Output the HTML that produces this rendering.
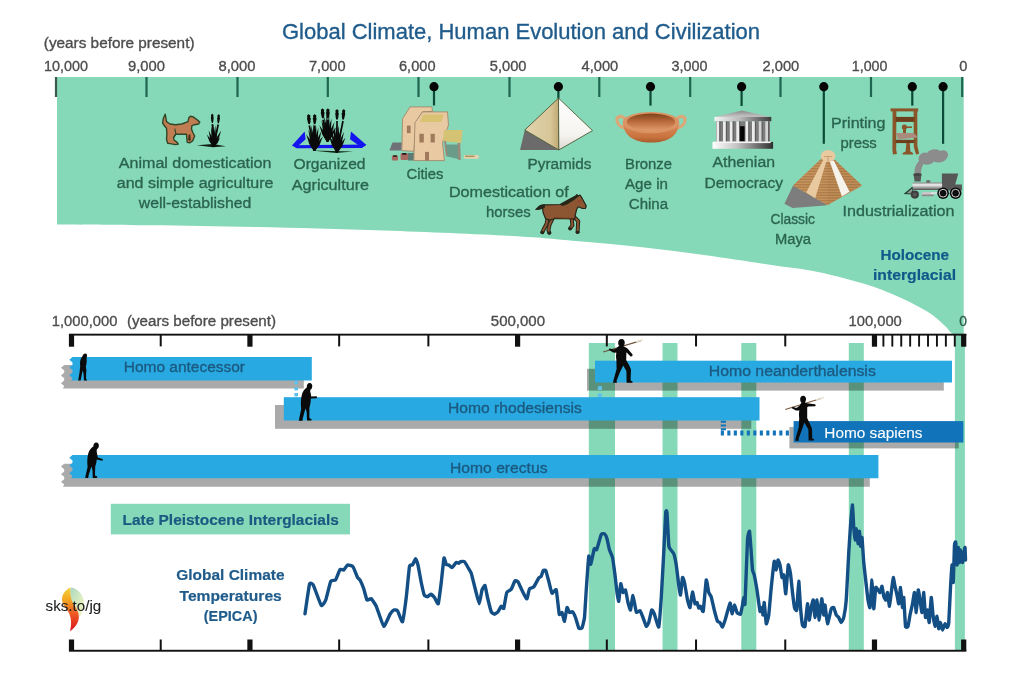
<!DOCTYPE html>
<html><head><meta charset="utf-8"><title>Global Climate, Human Evolution and Civilization</title>
<style>
html,body{margin:0;padding:0;background:#fff;}
body{width:1024px;height:674px;overflow:hidden;}
svg{display:block;font-family:"Liberation Sans",sans-serif;}
</style></head><body>
<svg width="1024" height="674" viewBox="0 0 1024 674">
<rect width="1024" height="674" fill="#fff"/>
<path d="M57,77 L963.7,77 L963.7,335.2 L954.8,335.2 L953.60,335.00 C953.00,334.45 951.43,333.20 950.00,331.70 C948.57,330.20 947.92,328.78 945.00,326.00 C942.08,323.22 936.67,318.10 932.50,315.00 C928.33,311.90 925.42,310.32 920.00,307.40 C914.58,304.48 908.67,301.23 900.00,297.50 C891.33,293.77 881.67,289.25 868.00,285.00 C854.33,280.75 834.67,275.42 818.00,272.00 C801.33,268.58 787.00,267.33 768.00,264.50 C749.00,261.67 725.33,257.92 704.00,255.00 C682.67,252.08 661.33,249.33 640.00,247.00 C618.67,244.67 597.33,242.83 576.00,241.00 C554.67,239.17 544.00,237.75 512.00,236.00 C480.00,234.25 426.67,232.00 384.00,230.50 C341.33,229.00 295.00,227.87 256.00,227.00 C217.00,226.13 183.17,225.72 150.00,225.30 C116.83,224.88 72.50,224.63 57.00,224.50 Z" fill="#86d9b8"/>
<text x="282.00" y="38.80" font-size="22" fill="#1f5b8b" font-weight="normal" stroke="#1f5b8b" stroke-width="0.35" textLength="478.00" lengthAdjust="spacingAndGlyphs" >Global Climate, Human Evolution and Civilization</text>
<text x="43.80" y="47.70" font-size="15.5" fill="#4d4d4d" font-weight="normal" stroke="#4d4d4d" stroke-width="0.35" textLength="150.70" lengthAdjust="spacingAndGlyphs" >(years before present)</text>
<text x="44.00" y="70.60" font-size="15.5" fill="#4d4d4d" font-weight="normal" stroke="#4d4d4d" stroke-width="0.35" textLength="44.00" lengthAdjust="spacingAndGlyphs" >10,000</text>
<text x="128.00" y="70.60" font-size="15.5" fill="#4d4d4d" font-weight="normal" stroke="#4d4d4d" stroke-width="0.35" textLength="37.00" lengthAdjust="spacingAndGlyphs" >9,000</text>
<text x="218.50" y="70.60" font-size="15.5" fill="#4d4d4d" font-weight="normal" stroke="#4d4d4d" stroke-width="0.35" textLength="37.00" lengthAdjust="spacingAndGlyphs" >8,000</text>
<text x="309.00" y="70.60" font-size="15.5" fill="#4d4d4d" font-weight="normal" stroke="#4d4d4d" stroke-width="0.35" textLength="36.50" lengthAdjust="spacingAndGlyphs" >7,000</text>
<text x="399.00" y="70.60" font-size="15.5" fill="#4d4d4d" font-weight="normal" stroke="#4d4d4d" stroke-width="0.35" textLength="36.50" lengthAdjust="spacingAndGlyphs" >6,000</text>
<text x="489.80" y="70.60" font-size="15.5" fill="#4d4d4d" font-weight="normal" stroke="#4d4d4d" stroke-width="0.35" textLength="36.70" lengthAdjust="spacingAndGlyphs" >5,000</text>
<text x="581.50" y="70.60" font-size="15.5" fill="#4d4d4d" font-weight="normal" stroke="#4d4d4d" stroke-width="0.35" textLength="36.70" lengthAdjust="spacingAndGlyphs" >4,000</text>
<text x="671.50" y="70.60" font-size="15.5" fill="#4d4d4d" font-weight="normal" stroke="#4d4d4d" stroke-width="0.35" textLength="36.00" lengthAdjust="spacingAndGlyphs" >3,000</text>
<text x="762.50" y="70.60" font-size="15.5" fill="#4d4d4d" font-weight="normal" stroke="#4d4d4d" stroke-width="0.35" textLength="36.70" lengthAdjust="spacingAndGlyphs" >2,000</text>
<text x="851.80" y="70.60" font-size="15.5" fill="#4d4d4d" font-weight="normal" stroke="#4d4d4d" stroke-width="0.35" textLength="35.70" lengthAdjust="spacingAndGlyphs" >1,000</text>
<text x="959.20" y="70.60" font-size="15.5" fill="#4d4d4d" font-weight="normal" stroke="#4d4d4d" stroke-width="0.35" textLength="8.10" lengthAdjust="spacingAndGlyphs" >0</text>
<rect x="54.90" y="77" width="2.2" height="20" fill="#3a5a50"/>
<rect x="145.40" y="77" width="2.2" height="20" fill="#1f6650"/>
<rect x="236.40" y="77" width="2.2" height="20" fill="#1f6650"/>
<rect x="326.70" y="77" width="2.2" height="20" fill="#1f6650"/>
<rect x="417.40" y="77" width="2.2" height="20" fill="#1f6650"/>
<rect x="508.40" y="77" width="2.2" height="20" fill="#1f6650"/>
<rect x="598.20" y="77" width="2.2" height="20" fill="#1f6650"/>
<rect x="689.10" y="77" width="2.2" height="20" fill="#1f6650"/>
<rect x="779.40" y="77" width="2.2" height="20" fill="#1f6650"/>
<rect x="869.90" y="77" width="2.2" height="20" fill="#1f6650"/>
<rect x="961.10" y="77" width="2.2" height="20" fill="#1f6650"/>
<rect x="432.90" y="87" width="2.2" height="18.50" fill="#0b4a36"/>
<circle cx="434.00" cy="86.7" r="4.6" fill="#050505"/>
<rect x="557.30" y="87" width="2.2" height="11.50" fill="#0b4a36"/>
<circle cx="558.40" cy="86.7" r="4.6" fill="#050505"/>
<rect x="649.40" y="87" width="2.2" height="18.60" fill="#0b4a36"/>
<circle cx="650.50" cy="86.7" r="4.6" fill="#050505"/>
<rect x="740.50" y="87" width="2.2" height="19.00" fill="#0b4a36"/>
<circle cx="741.60" cy="86.7" r="4.6" fill="#050505"/>
<rect x="822.70" y="87" width="2.2" height="56.80" fill="#0b4a36"/>
<circle cx="823.80" cy="86.7" r="4.6" fill="#050505"/>
<rect x="911.20" y="87" width="2.2" height="18.60" fill="#0b4a36"/>
<circle cx="912.30" cy="86.7" r="4.6" fill="#050505"/>
<rect x="942.00" y="87" width="2.2" height="56.80" fill="#0b4a36"/>
<circle cx="943.10" cy="86.7" r="4.6" fill="#050505"/>
<text x="118.80" y="167.50" font-size="15.5" fill="#2b6451" font-weight="normal" stroke="#2b6451" stroke-width="0.35" textLength="152.70" lengthAdjust="spacingAndGlyphs" >Animal domestication</text>
<text x="116.80" y="188.00" font-size="15.5" fill="#2b6451" font-weight="normal" stroke="#2b6451" stroke-width="0.35" textLength="156.70" lengthAdjust="spacingAndGlyphs" >and simple agriculture</text>
<text x="138.80" y="208.00" font-size="15.5" fill="#2b6451" font-weight="normal" stroke="#2b6451" stroke-width="0.35" textLength="112.50" lengthAdjust="spacingAndGlyphs" >well-established</text>
<text x="293.50" y="169.00" font-size="15.5" fill="#2b6451" font-weight="normal" stroke="#2b6451" stroke-width="0.35" textLength="72.00" lengthAdjust="spacingAndGlyphs" >Organized</text>
<text x="291.80" y="190.00" font-size="15.5" fill="#2b6451" font-weight="normal" stroke="#2b6451" stroke-width="0.35" textLength="77.20" lengthAdjust="spacingAndGlyphs" >Agriculture</text>
<text x="406.50" y="178.80" font-size="15.5" fill="#2b6451" font-weight="normal" stroke="#2b6451" stroke-width="0.35" textLength="37.00" lengthAdjust="spacingAndGlyphs" >Cities</text>
<text x="449.00" y="197.30" font-size="15.5" fill="#2b6451" font-weight="normal" stroke="#2b6451" stroke-width="0.35" textLength="119.80" lengthAdjust="spacingAndGlyphs" >Domestication of</text>
<text x="486.00" y="217.00" font-size="15.5" fill="#2b6451" font-weight="normal" stroke="#2b6451" stroke-width="0.35" textLength="44.60" lengthAdjust="spacingAndGlyphs" >horses</text>
<text x="527.50" y="168.80" font-size="15.5" fill="#2b6451" font-weight="normal" stroke="#2b6451" stroke-width="0.35" textLength="64.00" lengthAdjust="spacingAndGlyphs" >Pyramids</text>
<text x="625.00" y="168.80" font-size="15.5" fill="#2b6451" font-weight="normal" stroke="#2b6451" stroke-width="0.35" textLength="47.00" lengthAdjust="spacingAndGlyphs" >Bronze</text>
<text x="625.00" y="189.00" font-size="15.5" fill="#2b6451" font-weight="normal" stroke="#2b6451" stroke-width="0.35" textLength="43.00" lengthAdjust="spacingAndGlyphs" >Age in</text>
<text x="628.80" y="209.00" font-size="15.5" fill="#2b6451" font-weight="normal" stroke="#2b6451" stroke-width="0.35" textLength="39.20" lengthAdjust="spacingAndGlyphs" >China</text>
<text x="712.50" y="167.00" font-size="15.5" fill="#2b6451" font-weight="normal" stroke="#2b6451" stroke-width="0.35" textLength="62.50" lengthAdjust="spacingAndGlyphs" >Athenian</text>
<text x="704.50" y="187.50" font-size="15.5" fill="#2b6451" font-weight="normal" stroke="#2b6451" stroke-width="0.35" textLength="78.50" lengthAdjust="spacingAndGlyphs" >Democracy</text>
<text x="770.50" y="224.00" font-size="15.5" fill="#2b6451" font-weight="normal" stroke="#2b6451" stroke-width="0.35" textLength="44.50" lengthAdjust="spacingAndGlyphs" >Classic</text>
<text x="775.00" y="243.80" font-size="15.5" fill="#2b6451" font-weight="normal" stroke="#2b6451" stroke-width="0.35" textLength="36.00" lengthAdjust="spacingAndGlyphs" >Maya</text>
<text x="831.00" y="128.00" font-size="15.5" fill="#2b6451" font-weight="normal" stroke="#2b6451" stroke-width="0.35" textLength="54.50" lengthAdjust="spacingAndGlyphs" >Printing</text>
<text x="840.50" y="148.00" font-size="15.5" fill="#2b6451" font-weight="normal" stroke="#2b6451" stroke-width="0.35" textLength="36.30" lengthAdjust="spacingAndGlyphs" >press</text>
<text x="842.50" y="216.00" font-size="15.5" fill="#2b6451" font-weight="normal" stroke="#2b6451" stroke-width="0.35" textLength="112.00" lengthAdjust="spacingAndGlyphs" >Industrialization</text>
<text x="880.50" y="260.00" font-size="15.5" fill="#0f5a8a" font-weight="bold" stroke="#0f5a8a" stroke-width="0.2" textLength="68.50" lengthAdjust="spacingAndGlyphs" >Holocene</text>
<text x="873.00" y="280.00" font-size="15.5" fill="#0f5a8a" font-weight="bold" stroke="#0f5a8a" stroke-width="0.2" textLength="83.00" lengthAdjust="spacingAndGlyphs" >interglacial</text>
<defs>
<linearGradient id="pyrL" x1="0" y1="0" x2="1" y2="0"><stop offset="0" stop-color="#e2d3ad"/><stop offset="0.75" stop-color="#d8c699"/><stop offset="1" stop-color="#bfa873"/></linearGradient>
<linearGradient id="pyrR" x1="0" y1="0" x2="0" y2="1"><stop offset="0" stop-color="#ffffff"/><stop offset="0.7" stop-color="#f6f4f0"/><stop offset="1" stop-color="#dcd8d0"/></linearGradient>
<linearGradient id="bowlIn" x1="0" y1="0" x2="0" y2="1"><stop offset="0" stop-color="#7e4319"/><stop offset="0.45" stop-color="#b8683a"/><stop offset="1" stop-color="#e09a6c"/></linearGradient>
<linearGradient id="bowlBody" x1="0" y1="0" x2="0" y2="1"><stop offset="0" stop-color="#d98a58"/><stop offset="0.7" stop-color="#c9743f"/><stop offset="1" stop-color="#a85a2c"/></linearGradient>
<linearGradient id="tmpH" x1="0" y1="0" x2="1" y2="0"><stop offset="0" stop-color="#f4f4f4"/><stop offset="0.45" stop-color="#b9b9b9"/><stop offset="1" stop-color="#3c3c3c"/></linearGradient>
<linearGradient id="tmpP" x1="0" y1="0" x2="0" y2="1"><stop offset="0" stop-color="#8a8a8a"/><stop offset="1" stop-color="#c8c8c8"/></linearGradient>
<linearGradient id="tmpB" x1="0" y1="0" x2="1" y2="0"><stop offset="0" stop-color="#ffffff"/><stop offset="0.4" stop-color="#c4c4c4"/><stop offset="1" stop-color="#2e2e2e"/></linearGradient>
<linearGradient id="boiler" x1="0" y1="0" x2="0" y2="1"><stop offset="0" stop-color="#8a8a8a"/><stop offset="0.3" stop-color="#f2f2f2"/><stop offset="0.7" stop-color="#9a9a9a"/><stop offset="1" stop-color="#4a4a4a"/></linearGradient>
<linearGradient id="flame" x1="0" y1="0" x2="0" y2="1"><stop offset="0" stop-color="#f3d43a"/><stop offset="0.3" stop-color="#f3a324"/><stop offset="0.6" stop-color="#ee5a24"/><stop offset="1" stop-color="#d9141c"/></linearGradient>
<linearGradient id="leaf" x1="0" y1="0" x2="1" y2="1"><stop offset="0" stop-color="#a9d8c0"/><stop offset="0.6" stop-color="#dcecc0"/><stop offset="1" stop-color="#f6f0c0"/></linearGradient>
<pattern id="mayaL" width="4" height="1.6" patternUnits="userSpaceOnUse"><rect width="4" height="1.6" fill="#c9985f"/><rect y="0" width="4" height="0.65" fill="#a37243"/></pattern>
</defs>
<path d="M165.2,114.2 L163.4,118.2 L162.6,123.2 L164.6,126 L166.5,128.3 L166.9,133.8 L166.5,139.2 L167.7,143.2 L170,143.6 L175.5,144.6 L178.3,144.1 L177.1,142.4 L174,140 L173.6,137.7 L175.9,133.9 L177.1,134.2 L186.5,134.2 L186.9,139.2 L187.3,142.4 L189.6,142.8 L192.7,140.8 L194.7,136.1 L192.7,132.2 L191.5,129.1 L191.9,125.6 L194.3,124.8 L198.6,124 L199.8,122.1 L196.6,119.3 L192.7,116.6 L190.4,116.2 L188.8,117.8 L188,121.7 L181.8,124 L175.5,124.8 L170,124 L166.5,121.7 L165.8,117.4 Z" fill="#c07d51" stroke="#2f4629" stroke-width="1.4" stroke-linejoin="round"/>
<path d="M174.8,128.7 L175.9,133.8 L173.8,137.4" fill="none" stroke="#2f4629" stroke-width="1.1"/>
<path d="M188.6,134.4 L190.4,134.6 L190.8,139.4 L189.4,141.6 L188.2,139.4 Z" fill="#4a3018"/>
<path d="M196.8,145.3 L213,144 L225.8,146.3 L213,147.3 Z" fill="#0d1a10"/>
<polygon points="213.20,146.56 209.54,141.65 206.80,134.60 211.76,140.31 214.40,145.84" fill="#0b0b0b"/>
<polygon points="213.13,146.42 210.22,139.40 208.60,130.20 212.70,138.60 214.47,145.98" fill="#0b0b0b"/>
<polygon points="213.11,146.29 211.34,137.60 211.20,126.70 213.92,137.25 214.49,146.11" fill="#0b0b0b"/>
<polygon points="213.10,146.22 212.23,136.34 213.20,124.20 214.83,136.26 214.50,146.18" fill="#0b0b0b"/>
<polygon points="213.10,146.15 213.22,136.65 215.40,125.20 215.82,136.85 214.50,146.25" fill="#0b0b0b"/>
<polygon points="213.11,146.06 214.15,137.85 217.40,128.20 216.69,138.35 214.49,146.34" fill="#0b0b0b"/>
<polygon points="213.17,145.90 215.96,138.62 221.20,130.60 218.30,139.74 214.43,146.50" fill="#0b0b0b"/>
<polygon points="213.23,145.79 215.54,141.57 220.00,137.60 217.64,143.09 214.37,146.61" fill="#0b0b0b"/>
<polygon points="213.16,146.47 210.89,142.66 210.00,137.20 213.29,141.64 214.44,145.93" fill="#0b0b0b"/>
<path d="M213.80,145.20 L212.39,124.10" stroke="#0b0b0b" stroke-width="1.7" fill="none"/>
<polygon points="212.20,113.60 211.55,114.61 211.00,114.78 211.17,117.34 210.78,117.50 211.26,120.05 211.18,120.21 211.80,122.75 212.39,122.90 212.39,122.90 212.93,122.73 213.50,120.16 213.36,120.01 213.78,117.44 213.34,117.29 213.46,114.73 212.85,114.59" fill="#0b0b0b"/>
<path d="M213.80,145.20 L218.20,124.50" stroke="#0b0b0b" stroke-width="1.7" fill="none"/>
<polygon points="218.80,114.00 218.15,114.96 217.49,115.08 217.55,117.65 217.05,117.78 217.41,120.36 217.22,120.51 217.72,123.11 218.20,123.30 218.20,123.30 218.85,123.18 219.53,120.66 219.51,120.49 220.04,117.97 219.71,117.78 219.94,115.23 219.45,115.04" fill="#0b0b0b"/>
<path d="M304.6,131.6 L292,145.4 L296.5,147.6 L305.6,139.2 Z" fill="#1414ee"/>
<path d="M351,131.6 L366.4,145 L361.6,147.6 L350,139.2 Z" fill="#1414ee"/>
<path d="M292,145.2 L366.4,144.6 L362,148 L296.5,148.2 Z" fill="#1414ee"/>
<path d="M312,150.4 L353,151.4 L336,153 Z" fill="#14281a"/>
<polygon points="326.87,141.81 322.38,134.84 319.30,125.10 325.24,133.40 328.13,141.19" fill="#0b0b0b"/>
<polygon points="326.83,141.69 323.26,132.49 321.50,120.50 326.34,131.61 328.17,141.31" fill="#0b0b0b"/>
<polygon points="326.81,141.59 324.47,130.45 324.30,116.50 327.65,130.05 328.19,141.41" fill="#0b0b0b"/>
<polygon points="326.80,141.52 325.54,129.40 326.70,114.50 328.74,129.30 328.20,141.48" fill="#0b0b0b"/>
<polygon points="326.80,141.46 326.62,129.70 329.10,115.50 329.82,129.90 328.20,141.54" fill="#0b0b0b"/>
<polygon points="326.81,141.38 327.72,130.88 331.50,118.50 330.88,131.42 328.19,141.62" fill="#0b0b0b"/>
<polygon points="326.84,141.26 329.14,132.14 334.50,121.90 332.16,133.22 328.16,141.74" fill="#0b0b0b"/>
<polygon points="326.90,141.14 329.91,134.38 335.90,127.50 332.65,136.02 328.10,141.86" fill="#0b0b0b"/>
<polygon points="326.84,141.74 324.02,136.65 323.10,129.50 327.02,135.55 328.16,141.26" fill="#0b0b0b"/>
<polygon points="326.85,141.23 328.09,135.93 332.10,130.50 331.05,137.17 328.15,141.77" fill="#0b0b0b"/>
<path d="M327.50,140.50 L323.01,119.70" stroke="#0b0b0b" stroke-width="1.7" fill="none"/>
<polygon points="322.40,108.20 321.54,109.25 320.85,109.60 321.14,112.28 320.67,112.62 321.35,115.28 321.30,115.59 322.17,118.24 323.01,118.50 323.01,118.50 323.67,118.16 324.38,115.41 324.15,115.12 324.66,112.38 324.01,112.12 324.12,109.40 323.26,109.15" fill="#0b0b0b"/>
<path d="M327.50,140.50 L327.85,119.70" stroke="#0b0b0b" stroke-width="1.7" fill="none"/>
<polygon points="327.90,108.20 327.04,109.20 326.25,109.49 326.45,112.19 325.88,112.49 326.47,115.19 326.32,115.49 327.11,118.20 327.85,118.50 327.85,118.50 328.61,118.20 329.41,115.51 329.28,115.21 329.88,112.51 329.33,112.21 329.53,109.51 328.76,109.20" fill="#0b0b0b"/>
<polygon points="313.77,150.91 309.28,143.94 306.20,134.20 312.14,142.50 315.03,150.29" fill="#0b0b0b"/>
<polygon points="313.73,150.79 310.16,141.59 308.40,129.60 313.24,140.71 315.07,150.41" fill="#0b0b0b"/>
<polygon points="313.71,150.69 311.37,139.55 311.20,125.60 314.55,139.15 315.09,150.51" fill="#0b0b0b"/>
<polygon points="313.70,150.62 312.44,138.50 313.60,123.60 315.64,138.40 315.10,150.58" fill="#0b0b0b"/>
<polygon points="313.70,150.56 313.52,138.80 316.00,124.60 316.72,139.00 315.10,150.64" fill="#0b0b0b"/>
<polygon points="313.71,150.48 314.62,139.98 318.40,127.60 317.78,140.52 315.09,150.72" fill="#0b0b0b"/>
<polygon points="313.74,150.36 316.04,141.24 321.40,131.00 319.06,142.32 315.06,150.84" fill="#0b0b0b"/>
<polygon points="313.80,150.24 316.81,143.48 322.80,136.60 319.55,145.12 315.00,150.96" fill="#0b0b0b"/>
<polygon points="313.74,150.84 310.92,145.75 310.00,138.60 313.92,144.65 315.06,150.36" fill="#0b0b0b"/>
<polygon points="313.75,150.33 314.99,145.03 319.00,139.60 317.95,146.27 315.05,150.87" fill="#0b0b0b"/>
<path d="M314.40,149.60 L309.30,125.50" stroke="#0b0b0b" stroke-width="1.7" fill="none"/>
<polygon points="308.60,114.00 307.74,115.06 307.06,115.41 307.36,118.10 306.90,118.43 307.60,121.09 307.56,121.40 308.45,124.05 309.30,124.30 309.30,124.30 309.95,123.95 310.64,121.20 310.40,120.91 310.89,118.17 310.24,117.90 310.34,115.19 309.46,114.94" fill="#0b0b0b"/>
<path d="M314.40,149.60 L314.66,125.50" stroke="#0b0b0b" stroke-width="1.7" fill="none"/>
<polygon points="314.70,114.00 313.84,115.00 313.05,115.29 313.25,118.00 312.69,118.29 313.27,121.00 313.13,121.29 313.92,124.00 314.66,124.30 314.66,124.30 315.42,124.00 316.22,121.31 316.08,121.00 316.68,118.31 316.13,118.00 316.33,115.31 315.56,115.00" fill="#0b0b0b"/>
<polygon points="336.37,152.50 331.87,145.22 328.80,135.14 334.75,143.83 337.63,151.90" fill="#0b0b0b"/>
<polygon points="336.33,152.39 332.76,142.80 331.00,130.36 335.84,141.95 337.67,152.01" fill="#0b0b0b"/>
<polygon points="336.31,152.29 333.97,140.70 333.80,126.20 337.15,140.30 337.69,152.11" fill="#0b0b0b"/>
<polygon points="336.30,152.22 335.04,139.61 336.20,124.12 338.24,139.52 337.70,152.18" fill="#0b0b0b"/>
<polygon points="336.30,152.16 336.12,139.94 338.60,125.16 339.32,140.13 337.70,152.24" fill="#0b0b0b"/>
<polygon points="336.31,152.08 337.22,141.17 341.00,128.28 340.38,141.70 337.69,152.32" fill="#0b0b0b"/>
<polygon points="336.34,151.97 338.64,142.51 344.00,131.82 341.66,143.55 337.66,152.43" fill="#0b0b0b"/>
<polygon points="336.39,151.85 339.39,144.85 345.40,137.64 342.17,146.45 337.61,152.55" fill="#0b0b0b"/>
<polygon points="336.34,152.43 333.51,147.12 332.60,139.72 336.53,146.05 337.66,151.97" fill="#0b0b0b"/>
<polygon points="336.35,151.94 337.59,146.46 341.60,140.76 340.55,147.65 337.65,152.46" fill="#0b0b0b"/>
<path d="M337.00,151.20 L337.00,121.00" stroke="#0b0b0b" stroke-width="1.7" fill="none"/>
<polygon points="337.00,109.00 336.18,110.00 335.44,110.37 335.63,113.14 335.10,113.51 335.67,116.29 335.53,116.66 336.29,119.43 337.00,119.80 337.00,119.80 337.71,119.43 338.47,116.66 338.33,116.29 338.90,113.51 338.37,113.14 338.56,110.37 337.82,110.00" fill="#0b0b0b"/>
<path d="M337.00,151.20 L342.98,121.00" stroke="#0b0b0b" stroke-width="1.7" fill="none"/>
<polygon points="343.80,109.00 342.98,109.94 342.13,110.26 342.20,113.04 341.56,113.37 342.00,116.19 341.75,116.55 342.39,119.38 342.98,119.80 342.98,119.80 343.81,119.48 344.68,116.77 344.66,116.38 345.34,113.65 344.93,113.24 345.24,110.49 344.62,110.06" fill="#0b0b0b"/>
<polygon points="392.5,142.5 401.9,142.5 401.3,150.6 389.4,150.6" fill="#6f7078"/>
<polygon points="408,153 414,153 413.8,160.6 407.8,160.6" fill="#5e7a74"/>
<polygon points="410,106.9 431.9,106.9 432.5,111.3 422.5,111.9 416.3,121.3 413.8,151.3 401.9,150.6 402.5,118.8" fill="#e9c9a2" stroke="#a3886c" stroke-width="0.9"/>
<polygon points="422.5,111.9 447.5,111.9 448.5,125 442.5,142.5 444.4,160.6 413.8,160.6 415,122.5" fill="#e9c9a2" stroke="#a3886c" stroke-width="0.9"/>
<polygon points="423.2,114.4 443.8,114.4 441.3,121.9 420,121.9" fill="#d9c272"/>
<rect x="406.9" y="125.6" width="3.7" height="7.5" fill="#a07a5c"/>
<rect x="419.4" y="133.8" width="4.4" height="8.7" fill="#a07a5c"/>
<rect x="430.6" y="133.8" width="4.2" height="8.7" fill="#a07a5c"/>
<rect x="425" y="151.9" width="4" height="8.7" fill="#a07a5c"/>
<polygon points="445,144.4 458.8,144.4 460,159.4 446.3,156.3" fill="#6b9c8a"/>
<polygon points="443.8,130 462.5,130 461.3,143.1 443.1,141.3" fill="#d5c374"/>
<polygon points="457.5,143 460.2,143 460.8,160 458.3,160" fill="#988a7c"/>
<polygon points="444,141 446,141 447.6,156 446,156" fill="#988a7c"/>
<rect x="391.9" y="155.6" width="6.2" height="5" rx="1" fill="#a96a62"/><rect x="393.2" y="155.3" width="3.6" height="1.6" fill="#2a1a1a"/>
<rect x="400.6" y="153.3" width="7.5" height="6.7" rx="1" fill="#a96a62"/><rect x="402.2" y="153" width="4.2" height="1.8" fill="#2a1a1a"/>
<rect x="463.8" y="155" width="15" height="3.8" rx="1.5" fill="#e2d3ae"/><rect x="465" y="155.6" width="9.5" height="1.3" fill="#a88a56"/>
<polygon points="524.8,130 520,150 558.8,150" fill="#6b6b6b"/>
<polygon points="558.5,98.1 524.8,130 558.8,150" fill="url(#pyrL)" stroke="#4d5a33" stroke-width="0.9" stroke-linejoin="round"/>
<polygon points="558.5,98.1 592.5,130.6 558.8,150" fill="url(#pyrR)" stroke="#4d5a33" stroke-width="0.9" stroke-linejoin="round"/>
<path d="M626,120 C621,114 616,116.5 617.2,121.5 C618.3,126 623,128.5 627,127" fill="none" stroke="#dba678" stroke-width="3.2" stroke-linecap="round"/>
<path d="M676,120 C681,114 686,116.5 684.8,121.5 C683.7,126 679,128.5 675,127" fill="none" stroke="#dba678" stroke-width="3.2" stroke-linecap="round"/>
<path d="M623,123.5 C624,136 634,142.6 651,142.6 C668,142.6 678,136 679,123.5 Z" fill="url(#bowlBody)"/>
<ellipse cx="651" cy="122.6" rx="28.4" ry="10.6" fill="#dc9364"/>
<ellipse cx="651" cy="122" rx="24.2" ry="8.5" fill="url(#bowlIn)"/>
<polygon points="715,117 741.9,110.5 770.2,117" fill="url(#tmpP)"/>
<rect x="714.4" y="116.9" width="56.9" height="4.4" fill="url(#tmpH)"/>
<rect x="716" y="121.3" width="54" height="20.6" fill="#7c7c7c"/>
<rect x="740" y="126.2" width="4.6" height="15.3" fill="#050505"/>
<rect x="716.5" y="121.3" width="2.9" height="20.6" fill="#ececec"/>
<rect x="719.4" y="121.3" width="0.9" height="20.6" fill="#555"/>
<rect x="723" y="121.3" width="2.9" height="20.6" fill="#ececec"/>
<rect x="725.9" y="121.3" width="0.9" height="20.6" fill="#555"/>
<rect x="729.8" y="121.3" width="2.9" height="20.6" fill="#ececec"/>
<rect x="732.6999999999999" y="121.3" width="0.9" height="20.6" fill="#555"/>
<rect x="736.3" y="121.3" width="2.9" height="20.6" fill="#ececec"/>
<rect x="739.1999999999999" y="121.3" width="0.9" height="20.6" fill="#555"/>
<rect x="745.5" y="121.3" width="2.9" height="20.6" fill="#ececec"/>
<rect x="748.4" y="121.3" width="0.9" height="20.6" fill="#555"/>
<rect x="752" y="121.3" width="2.9" height="20.6" fill="#ececec"/>
<rect x="754.9" y="121.3" width="0.9" height="20.6" fill="#555"/>
<rect x="758.8" y="121.3" width="2.9" height="20.6" fill="#d4d4d4"/>
<rect x="761.6999999999999" y="121.3" width="0.9" height="20.6" fill="#555"/>
<rect x="765.3" y="121.3" width="2.9" height="20.6" fill="#d4d4d4"/>
<rect x="768.1999999999999" y="121.3" width="0.9" height="20.6" fill="#555"/>
<rect x="712.5" y="141.9" width="60.6" height="6.9" fill="url(#tmpB)"/>
<rect x="714.4" y="141.5" width="56.3" height="1.6" fill="#f4f4f4"/>
<path d="M548,216 L546.5,224 L543.6,229.5 L542.4,232.2" fill="none" stroke="#26261a" stroke-width="4" stroke-linejoin="round" stroke-linecap="round"/>
<path d="M553.5,216.5 L549.6,224.5 L548.4,230 L549.3,232.8" fill="none" stroke="#26261a" stroke-width="4" stroke-linejoin="round" stroke-linecap="round"/>
<path d="M573.6,216.5 L578.2,221.2 L577.6,232" fill="none" stroke="#26261a" stroke-width="4" stroke-linejoin="round" stroke-linecap="round"/>
<path d="M571.6,217 L572.4,225.4 L570.2,228.4" fill="none" stroke="#26261a" stroke-width="4" stroke-linejoin="round" stroke-linecap="round"/>
<path d="M548,216 L546.5,224 L543.6,229.5 L542.4,232.2" fill="none" stroke="#8b5631" stroke-width="2" stroke-linejoin="round" stroke-linecap="butt"/>
<path d="M553.5,216.5 L549.6,224.5 L548.4,230 L549.3,232.8" fill="none" stroke="#8b5631" stroke-width="2" stroke-linejoin="round" stroke-linecap="butt"/>
<path d="M573.6,216.5 L578.2,221.2 L577.6,232" fill="none" stroke="#8b5631" stroke-width="2" stroke-linejoin="round" stroke-linecap="butt"/>
<path d="M571.6,217 L572.4,225.4 L570.2,228.4" fill="none" stroke="#8b5631" stroke-width="2" stroke-linejoin="round" stroke-linecap="butt"/>
<ellipse cx="542.2" cy="232.4" rx="1.9" ry="1.4" fill="#26261a"/>
<ellipse cx="549.5" cy="233" rx="1.9" ry="1.4" fill="#26261a"/>
<ellipse cx="577.6" cy="232.2" rx="1.9" ry="1.4" fill="#26261a"/>
<ellipse cx="570" cy="228.6" rx="1.9" ry="1.4" fill="#26261a"/>
<path d="M543.8,204.8 L560,204.5 L570,199 L575.6,196 L576.9,194.7 L578.1,196 L580,195 L581.3,196.9 L586.3,206 L585.3,208.5 L582.5,208.5 L578.1,206.8 L576.5,209.8 L575.3,215 L574.8,218.8 L555,218.5 L550,220 L545.6,218.8 L543.1,212.5 L542.5,208.1 Z" fill="#8b5631" stroke="#26261a" stroke-width="1.2" stroke-linejoin="round"/>
<path d="M544.4,205 C541.5,204.2 538.5,206 535.6,209.4 C539,209.8 542,208.6 544.4,207.4 Z" fill="#26261a" stroke="#26261a" stroke-width="1"/>
<path d="M560,204.6 L570,199 L575.6,196 L576.9,194.6 L578.2,196 L580.2,195 L574.8,199.6 L567,204.6 L562,206 Z" fill="#26261a"/>
<circle cx="579.4" cy="201.4" r="0.9" fill="#a83030"/>
<path d="M554,218 L573,218.6" stroke="#5a3318" stroke-width="1.2"/>
<polygon points="793.1,185.6 784.4,203.8 792.5,208.1 825,205.6 827.5,205" fill="#7d7d7d"/>
<polygon points="821.3,158.8 793.1,185.6 827.5,205 861.9,185.6 835,160" fill="#bd8b55"/>
<polygon points="821.3,158.8 793.1,185.6 827.5,205 828,160" fill="url(#mayaL)"/>
<polygon points="835,160 861.9,185.6 827.5,205 827.5,160" fill="url(#mayaL)"/>
<polygon points="835,160 861.9,185.6 827.5,205 827.5,160" fill="#7a4a20" opacity="0.08"/>
<polygon points="823.6,159.2 826.6,160.6 815.2,198.2 806.2,192.6" fill="#e9c9a0"/>
<polygon points="829.4,160.6 833.8,160.6 849.6,191.8 841.9,196.4" fill="#f6f2ec"/>
<ellipse cx="828.1" cy="156" rx="7.3" ry="6" fill="#e9c9a0"/>
<path d="M824,156.5 L832.2,156.5 M828.1,156.5 L828.1,161.5" stroke="#c9a070" stroke-width="1.2" fill="none"/>
<rect x="890.6" y="108.4" width="27.6" height="3" fill="#8a5528"/>
<path d="M892.6,111 L896.4,111 L896.2,150 L897,154 L893,154.6 L892.4,150 Z" fill="#8a5528"/>
<path d="M913.6,111 L917.3,111 L917.4,146 L919.2,153.8 L916,154.6 L913.8,147 Z" fill="#8a5528"/>
<rect x="895.6" y="116.9" width="18.8" height="5" fill="#6e3f1c"/>
<circle cx="904.4" cy="127" r="2.6" fill="#8a5528"/><rect x="903" y="128" width="3" height="5.5" fill="#8a5528"/><rect x="905" y="126.4" width="7" height="1.6" fill="#8a5528"/>
<polygon points="895.6,133.1 913.8,133.1 918.3,137.5 898.1,139.4" fill="#a98c7c"/>
<rect x="895.6" y="139.8" width="18.8" height="3.3" fill="#6e3f1c"/>
<path d="M906.4,143 L909.8,143 L910.4,151.5 L913,153 L913,154.4 L902.6,154.4 L902.6,153 L905.6,151.5 Z" fill="#8a5528"/>
<path d="M915.5,176 C913,170 916,164 919,161 C917,155 923,151 927,153 C930,148 938,148.5 940,151 C945,148.5 949.5,152 947.5,157 C945,162.5 938,163.5 934,161.5 C931,165 926,165.5 923.5,164 C921,168 921,172 920.5,176 Z" fill="#8c8c8c"/>
<path d="M913.6,174.8 L921.4,174.8 L920.6,181.4 L914.6,181.4 Z" fill="#565656"/>
<ellipse cx="917.5" cy="174.6" rx="4.2" ry="1.5" fill="#444"/>
<ellipse cx="928.2" cy="181.6" rx="2.2" ry="1.6" fill="#6a6a6a"/>
<polygon points="941.9,173.5 958.3,173.5 955.2,184.4 961.9,184.4 961.9,190.5 941.9,190.5" fill="#575757"/>
<rect x="912.5" y="182.6" width="29.6" height="7.4" rx="1" fill="url(#boiler)"/>
<polygon points="903.6,194 912.5,186.6 913.2,194.6" fill="#1e3a2e"/>
<polygon points="906.5,193.3 912,188.4 912.3,193.6" fill="#8a9a92"/>
<rect x="921.9" y="192" width="12" height="4.2" rx="1.6" fill="#c9c9c9"/><rect x="921.9" y="194.6" width="12" height="1.6" rx="0.8" fill="#8a8a8a"/>
<rect x="931" y="192.4" width="14" height="1.5" fill="#e6e6e6"/>
<circle cx="914.8" cy="194.6" r="4.1" fill="#3c3c3c"/><circle cx="914.8" cy="194.6" r="2.2" fill="#555"/>
<circle cx="943.1" cy="193.2" r="5.8" fill="#0a0a0a"/><circle cx="943.1" cy="193.2" r="3.9" fill="none" stroke="#e8e8e8" stroke-width="0.9"/><circle cx="943.1" cy="193.2" r="2" fill="#111"/>
<circle cx="955.6" cy="193.2" r="5.8" fill="#0a0a0a"/><circle cx="955.6" cy="193.2" r="3.9" fill="none" stroke="#e8e8e8" stroke-width="0.9"/><circle cx="955.6" cy="193.2" r="2" fill="#111"/>
<text x="51.80" y="325.80" font-size="15.5" fill="#4d4d4d" font-weight="normal" stroke="#4d4d4d" stroke-width="0.35" textLength="65.70" lengthAdjust="spacingAndGlyphs" >1,000,000</text>
<text x="127.00" y="325.80" font-size="15.5" fill="#4d4d4d" font-weight="normal" stroke="#4d4d4d" stroke-width="0.35" textLength="149.00" lengthAdjust="spacingAndGlyphs" >(years before present)</text>
<text x="490.80" y="325.80" font-size="15.5" fill="#4d4d4d" font-weight="normal" stroke="#4d4d4d" stroke-width="0.35" textLength="54.20" lengthAdjust="spacingAndGlyphs" >500,000</text>
<text x="848.50" y="325.80" font-size="15.5" fill="#4d4d4d" font-weight="normal" stroke="#4d4d4d" stroke-width="0.35" textLength="53.30" lengthAdjust="spacingAndGlyphs" >100,000</text>
<text x="959.20" y="325.80" font-size="15.5" fill="#2f5e4e" font-weight="normal" stroke="#2f5e4e" stroke-width="0.35" textLength="7.70" lengthAdjust="spacingAndGlyphs" >0</text>
<polygon points="303.80,365.00 64.20,365.00 64.20,365.00 61.00,367.73 64.20,370.46 64.20,372.80 61.00,375.53 64.20,378.26 64.20,380.60 61.00,383.33 64.20,386.06 62.92,388.40 303.80,388.40" fill="#a9aaa9"/>
<rect x="275" y="405" width="476.3" height="23.8" fill="#a9aaa9"/>
<rect x="587" y="368.8" width="356.8" height="21.8" fill="#a9aaa9"/>
<rect x="789.4" y="427" width="169.3" height="21.4" fill="#a9aaa9"/>
<polygon points="869.80,463.80 64.20,463.80 64.20,463.80 61.00,466.48 64.20,469.17 64.20,471.47 61.00,474.15 64.20,476.83 64.20,479.13 61.00,481.82 64.20,484.50 62.92,486.80 869.80,486.80" fill="#a9aaa9"/>
<rect x="588.8" y="343" width="26.20" height="307.5" fill="#86d9b8" style="mix-blend-mode:multiply"/>
<rect x="662.5" y="343" width="15.00" height="307.5" fill="#86d9b8" style="mix-blend-mode:multiply"/>
<rect x="741.3" y="343" width="15.00" height="307.5" fill="#86d9b8" style="mix-blend-mode:multiply"/>
<rect x="848.8" y="343" width="15.00" height="307.5" fill="#86d9b8" style="mix-blend-mode:multiply"/>
<rect x="954.9" y="335.2" width="10" height="315.3" fill="#86d9b8" style="mix-blend-mode:multiply"/>
<rect x="110.8" y="503.8" width="239.2" height="30.6" fill="#86d9b8"/>
<text x="122.50" y="524.90" font-size="15.5" fill="#1a5a82" font-weight="bold" stroke="#1a5a82" stroke-width="0.2" textLength="216.30" lengthAdjust="spacingAndGlyphs" >Late Pleistocene Interglacials</text>
<rect x="294.4" y="381" width="3.6" height="3.4" fill="#5fc0ec"/><rect x="294.4" y="387" width="3.6" height="3.4" fill="#5fc0ec"/><rect x="294.4" y="393" width="3.6" height="3.4" fill="#5fc0ec"/>
<rect x="597.8" y="386.2" width="4.2" height="3.8" fill="#5fc0ec"/><rect x="597.8" y="393.6" width="4.2" height="3.6" fill="#5fc0ec"/>
<polygon points="311.80,357.00 72.50,357.00 72.50,357.00 69.30,359.73 72.50,362.46 72.50,364.80 69.30,367.53 72.50,370.26 72.50,372.60 69.30,375.33 72.50,378.06 71.22,380.40 311.80,380.40" fill="#29a9e1"/>
<rect x="283.8" y="397.2" width="475.7" height="23.3" fill="#29a9e1"/>
<rect x="595" y="360.7" width="357" height="21.8" fill="#29a9e1"/>
<polygon points="878.40,455.00 72.50,455.00 72.50,455.00 69.30,457.72 72.50,460.44 72.50,462.77 69.30,465.49 72.50,468.20 72.50,470.53 69.30,473.25 72.50,475.97 71.22,478.30 878.40,478.30" fill="#29a9e1"/>
<path d="M720.8,433.1 L790,433.1" stroke="#1173ba" stroke-width="5" stroke-dasharray="3.1 3.4" fill="none"/>
<path d="M723.4,420.8 L723.4,430.6" stroke="#1173ba" stroke-width="5.2" stroke-dasharray="2 1.7" fill="none"/>
<rect x="793.6" y="421.1" width="169.8" height="21.4" fill="#1173ba"/>
<text x="123.80" y="371.80" font-size="15.5" fill="#1b5a80" font-weight="normal" stroke="#1b5a80" stroke-width="0.35" textLength="121.20" lengthAdjust="spacingAndGlyphs" >Homo antecessor</text>
<text x="448.00" y="412.50" font-size="15.5" fill="#1b5a80" font-weight="normal" stroke="#1b5a80" stroke-width="0.35" textLength="133.80" lengthAdjust="spacingAndGlyphs" >Homo rhodesiensis</text>
<text x="708.80" y="376.30" font-size="15.5" fill="#1b5a80" font-weight="normal" stroke="#1b5a80" stroke-width="0.35" textLength="167.00" lengthAdjust="spacingAndGlyphs" >Homo neanderthalensis</text>
<text x="450.00" y="472.50" font-size="15.5" fill="#1b5a80" font-weight="normal" stroke="#1b5a80" stroke-width="0.35" textLength="97.50" lengthAdjust="spacingAndGlyphs" >Homo erectus</text>
<text x="824.30" y="437.50" font-size="15.5" fill="#ffffff" font-weight="normal" stroke="#ffffff" stroke-width="0.1" textLength="98.20" lengthAdjust="spacingAndGlyphs" >Homo sapiens</text>
<rect x="69" y="333.7" width="897.3" height="1.9" fill="#111"/>
<rect x="69" y="649.8" width="897.3" height="1.9" fill="#111"/>
<rect x="68.90" y="334" width="5.2" height="12.7" fill="#111"/>
<rect x="68.90" y="639.5" width="5.2" height="11.5" fill="#111"/>
<rect x="159.72" y="334" width="2" height="12.4" fill="#111"/>
<rect x="159.72" y="639.5" width="2" height="11.5" fill="#111"/>
<rect x="247.34" y="334" width="5.2" height="12.7" fill="#111"/>
<rect x="247.34" y="639.5" width="5.2" height="11.5" fill="#111"/>
<rect x="338.16" y="334" width="2" height="12.4" fill="#111"/>
<rect x="338.16" y="639.5" width="2" height="11.5" fill="#111"/>
<rect x="427.38" y="334" width="2" height="12.4" fill="#111"/>
<rect x="427.38" y="639.5" width="2" height="11.5" fill="#111"/>
<rect x="515.00" y="334" width="5.2" height="12.7" fill="#111"/>
<rect x="515.00" y="639.5" width="5.2" height="11.5" fill="#111"/>
<rect x="605.82" y="334" width="2" height="12.4" fill="#111"/>
<rect x="605.82" y="639.5" width="2" height="11.5" fill="#111"/>
<rect x="695.04" y="334" width="2" height="12.4" fill="#111"/>
<rect x="695.04" y="639.5" width="2" height="11.5" fill="#111"/>
<rect x="784.26" y="334" width="2" height="12.4" fill="#111"/>
<rect x="784.26" y="639.5" width="2" height="11.5" fill="#111"/>
<rect x="871.88" y="334" width="5.2" height="12.7" fill="#111"/>
<rect x="871.88" y="639.5" width="5.2" height="11.5" fill="#111"/>
<rect x="961.10" y="334" width="5.2" height="12.7" fill="#111"/>
<rect x="961.10" y="639.5" width="5.2" height="11.5" fill="#111"/>
<rect x="882.45" y="334" width="1.9" height="12.6" fill="#111"/>
<rect x="891.37" y="334" width="1.9" height="12.6" fill="#111"/>
<rect x="900.30" y="334" width="1.9" height="12.6" fill="#111"/>
<rect x="909.22" y="334" width="1.9" height="12.6" fill="#111"/>
<rect x="918.14" y="334" width="1.9" height="12.6" fill="#111"/>
<rect x="927.06" y="334" width="1.9" height="12.6" fill="#111"/>
<rect x="935.98" y="334" width="1.9" height="12.6" fill="#111"/>
<rect x="944.91" y="334" width="1.9" height="12.6" fill="#111"/>
<rect x="953.83" y="334" width="1.9" height="12.6" fill="#111"/>
<path d="M85.3,353.6 C86.8,353.6 87.4,355.2 86.9,356.8 L86.5,358.6 C87,361 86.6,364 85.8,366.5 C86.3,369 86.6,371 86.2,373 L86,378.6 L87.2,380.4 L84,380.4 L83.6,374 L82.6,370.6 L81.4,376.5 L80.6,380.6 L78.2,380.4 L79.6,372 L80.2,366 C79.6,362 80.4,358.6 82.4,356.2 C83,354.4 84,353.6 85.3,353.6 Z" fill="#0a0a0a"/>
<path d="M96.2,442.4 C98.2,442.4 99.2,444.2 98.8,446.2 C98.6,447.6 98,448.6 97,449 L96.6,451 C97,453 97.4,455.5 97.8,457.6 L102.6,459 L103,460.4 L101,460.6 L96.8,459.6 C96.6,462 96,464.5 95.2,466.6 L95,475.4 L97.2,476.6 L97,478 L92.8,478 L92.4,469.4 L91.4,466.4 L88.6,475.6 L88.2,478 L85.2,478 L85.6,475.6 L87.6,467 C87,462 87.2,457 88.4,453 C89.4,450 91.4,447.8 93.4,446.6 C93.2,444.2 94.4,442.4 96.2,442.4 Z" fill="#0a0a0a"/>
<path d="M309.6,383 C311.6,383 312.6,384.8 312.2,386.8 C312,388.2 311.4,389.4 310.4,389.8 L310.2,391.6 C310.8,393.4 311,395 311.2,396.4 L316.6,396.2 L317.2,397.4 L316.4,398.2 L310.8,398.6 C310.8,402 310.2,405.4 309.4,408 L309.4,418 L311.6,419.2 L311.4,420.6 L307,420.6 L306.6,411.6 L305.4,408.4 L302.8,418.4 L302.6,420.8 L298.8,420.8 L299.2,418.6 L301.2,409 C300.6,404 300.8,399 301.8,395 C302.6,391.6 304.6,389 306.8,387.6 C306.6,384.8 307.8,383 309.6,383 Z" fill="#0a0a0a"/>
<path d="M603.2,352 L641,340.6" stroke="#6a5038" stroke-width="1.1" fill="none"/><path d="M636,342 L642.6,339.8" stroke="#e8e0d0" stroke-width="1.6"/>
<path d="M621.5,339 C623.8,339 625,341 624.7,343.2 C624.6,344.4 624,345.6 623.4,346.2 C625.6,347 627.4,348 628.4,349.4 L632.6,354.6 L632.2,356.2 L630.6,356.4 L626.4,352.2 L626.2,360 C628,363.4 630,366.4 631,369.6 L630.6,380.4 L632.6,381.6 L632.4,382.8 L626.6,382.8 L626.4,371 L623.2,365.4 L619.6,373 L616.6,380.8 L617,382.8 L613,382.8 L613.4,380.4 L616.6,369 L616.4,360 C615.8,357 616,354.6 616.4,352.8 L613,352.4 L608.6,349.6 L609.6,348.4 L613.6,349.6 L616.6,348.2 C617.6,347 618.6,346.4 619.4,346 C618.6,345.4 618.2,344.4 618.2,343.2 C618,341 619.4,339 621.5,339 Z" fill="#0a0a0a"/>
<path d="M785.2,409.6 L821,398.4" stroke="#7a5a3c" stroke-width="1.1" fill="none"/><path d="M816,400 L823.8,397.4" stroke="#e8e0d0" stroke-width="1.5"/>
<path d="M803.1,395.8 C805.2,395.8 806.2,397.6 806,399.4 C805.9,400.6 805.4,401.8 804.8,402.4 C806.4,403 807.8,403.4 809,403.6 L815,404.2 L815.8,405.2 L815.2,406.2 L808.4,406.4 L807.2,407.2 L807.2,418 C808.6,421.6 810.6,425 812,428.4 L812.2,438.2 L814.2,439.4 L814,440.6 L808.6,440.6 L808.4,429.6 L804.4,422.4 L801.8,430 L798.6,438.8 L799,440.8 L795.2,440.8 L795.6,438.4 L798.8,427 L799.2,418 C798.8,415 799,412 799.4,410.4 L796,410.6 L791.8,408.2 L792.6,406.8 L796.4,408 L799.8,405.6 C800.4,404.4 801,403.4 801.6,402.6 C800.8,402 800.2,400.8 800.2,399.4 C800,397.6 801.2,395.8 803.1,395.8 Z" fill="#0a0a0a"/>
<path d="M305.00,613.75 C305.30,611.78 308.95,586.17 309.50,584.25 C310.05,582.33 312.47,583.58 313.25,585.00 C314.03,586.42 320.42,604.50 321.25,605.50 C322.08,606.50 325.12,601.62 325.75,600.00 C326.38,598.38 330.10,582.58 330.75,581.25 C331.40,579.92 334.88,580.78 335.50,580.00 C336.12,579.22 339.45,570.17 340.00,569.50 C340.55,568.83 343.25,570.30 343.75,570.00 C344.25,569.70 346.88,565.22 347.50,565.00 C348.12,564.78 352.33,565.92 353.00,566.75 C353.67,567.58 357.03,576.62 357.50,577.50 C357.97,578.38 359.58,579.25 360.00,580.00 C360.42,580.75 363.28,587.42 363.75,588.75 C364.22,590.08 366.50,599.33 367.00,600.00 C367.50,600.67 370.63,598.33 371.25,598.75 C371.87,599.17 375.42,604.42 376.25,606.25 C377.08,608.08 382.83,625.72 383.75,626.25 C384.67,626.78 389.33,615.33 390.00,614.25 C390.67,613.17 393.25,610.23 393.75,610.00 C394.25,609.77 396.92,609.97 397.50,610.75 C398.08,611.53 401.92,622.63 402.50,621.75 C403.08,620.87 405.78,601.20 406.25,597.50 C406.72,593.80 409.08,568.42 409.50,566.25 C409.92,564.08 412.10,565.50 412.50,565.00 C412.90,564.50 415.13,558.75 415.50,558.75 C415.87,558.75 417.62,563.42 418.00,565.00 C418.38,566.58 420.83,580.50 421.25,582.50 C421.67,584.50 423.83,594.05 424.25,595.00 C424.67,595.95 427.07,596.80 427.50,596.75 C427.93,596.70 430.28,594.20 430.75,594.25 C431.22,594.30 434.00,596.87 434.50,597.50 C435.00,598.13 437.80,604.75 438.25,603.75 C438.70,602.75 440.87,585.55 441.25,582.50 C441.63,579.45 443.67,559.20 444.00,558.00 C444.33,556.80 445.93,564.03 446.25,564.50 C446.57,564.97 448.37,564.80 448.75,565.00 C449.13,565.20 451.50,567.67 452.00,567.50 C452.50,567.33 455.80,562.78 456.25,562.50 C456.70,562.22 458.47,563.30 458.75,563.25 C459.03,563.20 460.12,561.85 460.50,561.75 C460.88,561.65 464.00,561.37 464.50,561.75 C465.00,562.13 467.55,566.73 468.00,567.50 C468.45,568.27 470.75,571.75 471.25,573.25 C471.75,574.75 474.97,587.97 475.50,590.00 C476.03,592.03 478.82,603.75 479.25,603.75 C479.68,603.75 481.62,591.22 482.00,590.00 C482.38,588.78 484.63,585.00 485.00,585.50 C485.37,586.00 487.08,595.75 487.50,597.50 C487.92,599.25 490.78,610.63 491.25,611.75 C491.72,612.87 494.05,614.25 494.50,614.25 C494.95,614.25 497.55,612.28 498.00,611.75 C498.45,611.22 500.87,606.48 501.25,606.25 C501.63,606.02 503.38,609.17 503.75,608.25 C504.12,607.33 506.25,593.77 506.75,592.50 C507.25,591.23 510.70,590.03 511.25,589.25 C511.80,588.47 514.55,581.25 515.00,580.75 C515.45,580.25 517.58,581.22 518.00,581.75 C518.42,582.28 520.78,587.78 521.25,588.75 C521.72,589.72 524.62,595.58 525.00,596.25 C525.38,596.92 526.70,599.25 527.00,598.75 C527.30,598.25 529.05,589.53 529.50,588.75 C529.95,587.97 533.13,587.72 533.75,587.00 C534.37,586.28 538.25,578.72 538.75,578.00 C539.25,577.28 540.95,576.75 541.25,576.25 C541.55,575.75 542.95,570.88 543.25,570.50 C543.55,570.12 545.38,569.78 545.75,570.50 C546.12,571.22 548.33,579.73 548.75,581.25 C549.17,582.77 551.50,592.67 552.00,593.25 C552.50,593.83 555.77,588.60 556.25,590.00 C556.73,591.40 558.87,612.75 559.25,614.25 C559.63,615.75 561.65,612.03 562.00,612.50 C562.35,612.97 564.17,621.58 564.50,621.25 C564.83,620.92 566.67,608.08 567.00,607.50 C567.33,606.92 569.13,612.22 569.50,612.50 C569.87,612.78 572.10,611.42 572.50,611.75 C572.90,612.08 575.08,616.42 575.50,617.50 C575.92,618.58 578.32,627.30 578.75,628.00 C579.18,628.70 581.62,628.70 582.00,628.00 C582.38,627.30 584.22,620.03 584.50,617.50 C584.78,614.97 585.97,594.08 586.25,590.00 C586.53,585.92 588.45,557.97 588.75,556.25 C589.05,554.53 590.38,564.75 590.75,564.25 C591.12,563.75 593.85,549.73 594.25,548.75 C594.65,547.77 596.28,550.45 596.75,549.50 C597.22,548.55 600.73,535.55 601.25,534.50 C601.77,533.45 604.12,533.47 604.50,533.75 C604.88,534.03 606.67,537.67 607.00,538.75 C607.33,539.83 609.13,548.75 609.50,550.00 C609.87,551.25 612.13,555.83 612.50,557.50 C612.87,559.17 614.70,572.67 615.00,575.00 C615.30,577.33 616.75,590.75 617.00,592.50 C617.25,594.25 618.50,601.83 618.75,601.25 C619.00,600.67 620.47,584.33 620.75,583.75 C621.03,583.17 622.68,592.08 623.00,592.50 C623.32,592.92 625.17,589.33 625.50,590.00 C625.83,590.67 627.67,601.17 628.00,602.50 C628.33,603.83 630.17,610.47 630.50,610.00 C630.83,609.53 632.62,595.37 633.00,595.50 C633.38,595.63 635.78,610.98 636.25,612.00 C636.72,613.02 639.58,610.47 640.00,610.75 C640.42,611.03 642.08,615.22 642.50,616.25 C642.92,617.28 645.83,625.83 646.25,626.25 C646.67,626.67 648.38,623.58 648.75,622.50 C649.12,621.42 651.38,610.58 651.75,610.00 C652.12,609.42 653.78,612.62 654.25,613.75 C654.72,614.88 658.28,628.08 658.75,627.00 C659.22,625.92 660.92,602.47 661.25,597.50 C661.58,592.53 663.45,558.17 663.75,552.50 C664.05,546.83 665.53,515.17 665.75,512.50 C665.97,509.83 666.80,510.33 667.00,512.50 C667.20,514.67 668.55,542.58 668.75,545.00 C668.95,547.42 669.67,548.17 670.00,548.75 C670.33,549.33 673.33,552.67 673.75,553.75 C674.17,554.83 675.92,562.92 676.25,565.00 C676.58,567.08 678.47,583.00 678.75,585.00 C679.03,587.00 680.25,595.50 680.50,595.00 C680.75,594.50 682.23,578.33 682.50,577.50 C682.77,576.67 684.17,581.00 684.50,582.50 C684.83,584.00 687.13,598.33 687.50,600.00 C687.87,601.67 689.67,608.03 690.00,607.50 C690.33,606.97 692.17,592.25 692.50,592.00 C692.83,591.75 694.70,603.05 695.00,603.75 C695.30,604.45 696.75,602.22 697.00,602.50 C697.25,602.78 698.52,607.75 698.75,608.00 C698.98,608.25 700.20,606.03 700.50,606.25 C700.80,606.47 702.87,613.00 703.25,611.25 C703.63,609.50 705.88,581.25 706.25,580.00 C706.62,578.75 708.42,591.37 708.75,592.50 C709.08,593.63 710.88,595.83 711.25,597.00 C711.62,598.17 713.83,608.38 714.25,610.00 C714.67,611.62 717.12,620.42 717.50,621.25 C717.88,622.08 719.67,622.12 720.00,622.50 C720.33,622.88 722.13,627.25 722.50,627.00 C722.87,626.75 725.00,620.35 725.50,618.75 C726.00,617.15 729.57,603.33 730.00,603.00 C730.43,602.67 731.70,613.62 732.00,613.75 C732.30,613.88 734.17,605.08 734.50,605.00 C734.83,604.92 736.60,611.88 737.00,612.50 C737.40,613.12 740.13,614.75 740.50,614.25 C740.87,613.75 742.28,606.12 742.50,605.00 C742.72,603.88 743.58,597.58 743.75,597.50 C743.92,597.42 744.75,607.58 745.00,603.75 C745.25,599.92 747.20,544.83 747.50,540.00 C747.80,535.17 749.25,530.42 749.50,531.25 C749.75,532.08 751.05,549.92 751.25,552.50 C751.45,555.08 752.30,568.50 752.50,570.00 C752.70,571.50 753.95,573.67 754.25,575.00 C754.55,576.33 756.62,587.58 757.00,590.00 C757.38,592.42 759.67,610.08 760.00,611.25 C760.33,612.42 761.80,607.25 762.00,607.50 C762.20,607.75 762.85,615.33 763.00,615.00 C763.15,614.67 764.03,601.92 764.25,602.50 C764.47,603.08 765.95,622.92 766.25,623.75 C766.55,624.58 768.42,617.42 768.75,615.00 C769.08,612.58 770.88,591.08 771.25,587.50 C771.62,583.92 773.92,562.42 774.25,561.25 C774.58,560.08 776.00,570.08 776.25,570.00 C776.50,569.92 777.75,560.33 778.00,560.00 C778.25,559.67 779.73,563.83 780.00,565.00 C780.27,566.17 781.75,576.83 782.00,577.50 C782.25,578.17 783.50,573.92 783.75,575.00 C784.00,576.08 785.45,594.42 785.75,593.75 C786.05,593.08 787.93,566.33 788.25,565.00 C788.57,563.67 790.22,571.92 790.50,573.75 C790.78,575.58 792.23,590.25 792.50,592.50 C792.77,594.75 794.22,606.33 794.50,607.50 C794.78,608.67 796.47,611.75 796.75,610.00 C797.03,608.25 798.50,581.42 798.75,581.25 C799.00,581.08 800.25,604.58 800.50,607.50 C800.75,610.42 802.20,623.75 802.50,625.00 C802.80,626.25 804.67,627.67 805.00,626.25 C805.33,624.83 807.22,604.17 807.50,603.75 C807.78,603.33 809.00,619.75 809.25,620.00 C809.50,620.25 810.98,608.83 811.25,607.50 C811.52,606.17 813.00,599.33 813.25,600.00 C813.50,600.67 814.75,617.50 815.00,617.50 C815.25,617.50 816.72,599.83 817.00,600.00 C817.28,600.17 818.93,620.08 819.25,620.00 C819.57,619.92 821.45,599.08 821.75,598.75 C822.05,598.42 823.53,614.58 823.75,615.00 C823.97,615.42 824.75,604.42 825.00,605.00 C825.25,605.58 827.08,623.50 827.50,623.75 C827.92,624.00 830.83,609.83 831.25,608.75 C831.67,607.67 833.42,607.08 833.75,607.50 C834.08,607.92 835.92,614.33 836.25,615.00 C836.58,615.67 838.42,617.00 838.75,617.50 C839.08,618.00 840.92,622.50 841.25,622.50 C841.58,622.50 843.42,619.00 843.75,617.50 C844.08,616.00 845.92,604.33 846.25,600.00 C846.58,595.67 848.45,557.67 848.75,552.50 C849.05,547.33 850.50,525.67 850.75,522.50 C851.00,519.33 852.30,504.67 852.50,505.00 C852.70,505.33 853.58,525.17 853.75,527.50 C853.92,529.83 854.83,539.92 855.00,540.00 C855.17,540.08 856.05,528.50 856.25,528.75 C856.45,529.00 857.78,543.58 858.00,543.75 C858.22,543.92 859.32,531.08 859.50,531.25 C859.68,531.42 860.58,545.83 860.75,546.25 C860.92,546.67 861.80,536.42 862.00,537.50 C862.20,538.58 863.47,559.33 863.75,562.50 C864.03,565.67 865.97,582.50 866.25,585.00 C866.53,587.50 867.75,598.50 868.00,600.00 C868.25,601.50 869.73,608.83 870.00,607.50 C870.27,606.17 871.75,579.92 872.00,580.00 C872.25,580.08 873.50,608.25 873.75,608.75 C874.00,609.25 875.47,588.75 875.75,587.50 C876.03,586.25 877.72,589.67 878.00,590.00 C878.28,590.33 879.73,592.75 880.00,592.50 C880.27,592.25 881.75,586.00 882.00,586.25 C882.25,586.50 883.50,595.33 883.75,596.25 C884.00,597.17 885.50,600.25 885.75,600.00 C886.00,599.75 887.25,592.08 887.50,592.50 C887.75,592.92 889.22,606.50 889.50,606.25 C889.78,606.00 891.50,590.67 891.75,588.75 C892.00,586.83 893.03,577.67 893.25,577.50 C893.47,577.33 894.75,585.08 895.00,586.25 C895.25,587.42 896.75,593.83 897.00,595.00 C897.25,596.17 898.52,604.25 898.75,603.75 C898.98,603.25 900.25,587.25 900.50,587.50 C900.75,587.75 902.28,606.83 902.50,607.50 C902.72,608.17 903.55,596.25 903.75,597.50 C903.95,598.75 905.22,624.33 905.50,626.25 C905.78,628.17 907.70,627.00 908.00,626.25 C908.30,625.50 909.70,616.50 910.00,615.00 C910.30,613.50 912.20,605.25 912.50,603.75 C912.80,602.25 914.25,591.92 914.50,592.50 C914.75,593.08 916.00,612.67 916.25,612.50 C916.50,612.33 918.00,590.83 918.25,590.00 C918.50,589.17 919.75,598.50 920.00,600.00 C920.25,601.50 921.75,613.00 922.00,612.50 C922.25,612.00 923.52,592.17 923.75,592.50 C923.98,592.83 925.25,616.33 925.50,617.50 C925.75,618.67 927.25,609.67 927.50,610.00 C927.75,610.33 929.00,623.33 929.25,622.50 C929.50,621.67 931.00,598.00 931.25,597.50 C931.50,597.00 932.75,613.08 933.00,615.00 C933.25,616.92 934.73,626.17 935.00,626.25 C935.27,626.33 936.75,616.08 937.00,616.25 C937.25,616.42 938.52,628.33 938.75,628.75 C938.98,629.17 940.25,622.42 940.50,622.50 C940.75,622.58 942.20,629.92 942.50,630.00 C942.80,630.08 944.70,623.92 945.00,623.75 C945.30,623.58 946.75,627.58 947.00,627.50 C947.25,627.42 948.52,625.17 948.75,622.50 C948.98,619.83 950.28,591.33 950.50,587.50 C950.72,583.67 951.82,565.33 952.00,565.00 C952.18,564.67 953.08,583.83 953.25,582.50 C953.42,581.17 954.33,547.67 954.50,545.00 C954.67,542.33 955.58,541.17 955.75,542.50 C955.92,543.83 956.83,564.67 957.00,565.00 C957.17,565.33 958.08,547.67 958.25,547.50 C958.42,547.33 959.33,562.33 959.50,562.50 C959.67,562.67 960.55,550.00 960.75,550.00 C960.95,550.00 962.30,562.25 962.50,562.50 C962.70,562.75 963.58,554.75 963.75,553.75 C963.92,552.75 964.88,547.08 965.00,547.50 C965.12,547.92 965.47,559.17 965.50,560.00" fill="none" stroke="#134e85" stroke-width="3.4" stroke-linejoin="round" stroke-linecap="round"/>
<text x="176.30" y="580.30" font-size="15.5" fill="#1f5b8b" font-weight="bold" stroke="#1f5b8b" stroke-width="0.2" textLength="108.20" lengthAdjust="spacingAndGlyphs" >Global Climate</text>
<text x="179.50" y="600.50" font-size="15.5" fill="#1f5b8b" font-weight="bold" stroke="#1f5b8b" stroke-width="0.2" textLength="102.30" lengthAdjust="spacingAndGlyphs" >Temperatures</text>
<text x="203.80" y="620.50" font-size="15.5" fill="#1f5b8b" font-weight="bold" stroke="#1f5b8b" stroke-width="0.2" textLength="53.70" lengthAdjust="spacingAndGlyphs" >(EPICA)</text>
<path d="M70.6,587.6 C76,588 82,593 83.6,600 C84.6,606 82.6,612 79.6,617 C78.4,611 75,605.4 71.6,601 C70,596.6 69.8,592 70.6,587.6 Z" fill="url(#leaf)"/>
<path d="M70.4,587.4 C66,589.4 61.6,594 62,600 C62.6,606 67.6,609.4 69.6,614.4 C71.4,619.4 71.6,625 70,631.2 C75.6,627.2 79.4,621.6 78.8,615.4 C78,608.6 72.6,604.6 71.2,598.6 C70.4,595 70.2,591 70.4,587.4 Z" fill="url(#flame)"/>
<text x="45.60" y="610.60" font-size="14.5" fill="#222" font-weight="normal" stroke="#222" stroke-width="0.1" textLength="55.60" lengthAdjust="spacingAndGlyphs" >sks.to/jg</text>
</svg>
</body></html>
